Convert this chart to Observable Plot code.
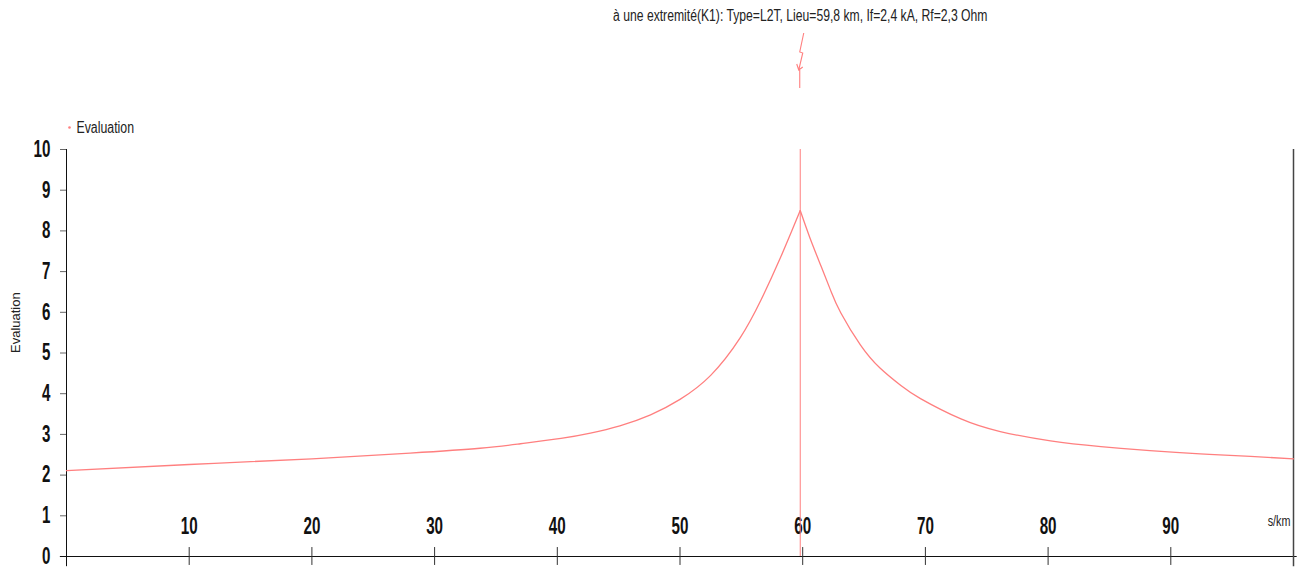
<!DOCTYPE html>
<html><head><meta charset="utf-8">
<script src="https://cdn.jsdelivr.net/npm/d3@7"></script>
<script src="https://cdn.jsdelivr.net/npm/@observablehq/plot@0.6"></script>
<style>body{margin:0;background:#fff} svg{display:block}</style>
</head><body><div id="chart"></div>
<script>
const title = "à une extremité(K1): Type=L2T, Lieu=59,8 km, If=2,4 kA, Rf=2,3 Ohm";
const seriesName = "Evaluation";
const xUnit = "s/km";
const faultKm = 59.8;
const xTicks = [10, 20, 30, 40, 50, 60, 70, 80, 90];
const yTicks = [0, 1, 2, 3, 4, 5, 6, 7, 8, 9, 10];
const kmLeft = [0, 10, 20, 28, 33.7, 37, 40.3, 42.7, 45.1, 47.6, 50, 52.5, 54.9, 56.6, 58.2, 59.8];
const evalLeft = [2.11, 2.26, 2.40, 2.54, 2.66, 2.77, 2.90, 3.03, 3.21, 3.48, 3.86, 4.45, 5.37, 6.30, 7.35, 8.50];
const kmRight = [59.8, 60.6, 61.5, 62.3, 63.1, 64.7, 66.3, 68, 69.6, 72.9, 76.1, 80.2, 84.3, 88.3, 92.4, 96.5, 100];
const evalRight = [8.50, 7.82, 7.13, 6.52, 5.99, 5.20, 4.63, 4.20, 3.88, 3.38, 3.07, 2.84, 2.70, 2.60, 2.52, 2.46, 2.40];

const data = [
  ...kmLeft.map((k, i) => ({km: k, v: evalLeft[i], side: "left"})),
  ...kmRight.map((k, i) => ({km: k, v: evalRight[i], side: "right"}))
];
const red = "#ff7f7f";
const font = "'Liberation Sans', Arial, sans-serif";

function lightning(index, scales, values, dimensions) {
  const x0 = scales.x(faultKm);
  const g = d3.create("svg:g").attr("fill", "none").attr("stroke", red).attr("stroke-width", 1.1);
  g.append("path").attr("d", `M${x0 + 4},33 L${x0},52 L${x0 + 3},53 L${x0 - 1},70 M${x0 - 3},64 L${x0 - 1},70 L${x0 + 3},67 M${x0},70 L${x0},88`);
  return g.node();
}

const chart = Plot.plot({
  width: 1297,
  height: 567,
  marginLeft: 66,
  marginRight: 4,
  marginTop: 149,
  marginBottom: 11,
  style: {fontFamily: font, background: "#fff", overflow: "visible"},
  x: {domain: [0, 100]},
  y: {domain: [0, 10]},
  marks: [
    Plot.axisY({ticks: yTicks, tickSize: 6, tickPadding: 10, fontSize: 23, fontWeight: "bold", stroke: "#666", fill: "#111", label: null, tickFormat: d => d}),
    Plot.axisX({ticks: [], label: null}),
    Plot.ruleY([0], {x1: -0.5, x2: 100.3, stroke: "#111"}),
    Plot.ruleX([0], {y1: -0.25, y2: 10, stroke: "#111"}),
    Plot.ruleX([100], {y1: -0.25, y2: 10, stroke: "#444", strokeWidth: 1.5}),
    Plot.ruleX(xTicks, {x: d => d, y1: -0.22, y2: 0.22, stroke: "#333"}),
    Plot.text(xTicks, {x: d => d, y: 0, dy: -30, text: d => d, fontSize: 23, fontWeight: "bold", fill: "#111"}),
    Plot.text([xUnit], {frameAnchor: "bottom-right", lineAnchor: "middle", dx: -3, dy: -35, fontSize: 14, fill: "#222"}),
    Plot.text([seriesName], {frameAnchor: "left", rotate: -90, dx: -51, fontSize: 13, fill: "#222", style: "letter-spacing:1.6px"}),
    Plot.ruleX([faultKm], {y1: 0, y2: 10, stroke: red, strokeWidth: 1}),
    Plot.line(data, {x: "km", y: "v", z: "side", curve: "natural", stroke: red, strokeWidth: 1.3}),
    Plot.text([title], {x: faultKm, frameAnchor: "top", lineAnchor: "middle", dy: -134, fontSize: 15.8, fill: "#222"}),
    Plot.dot([seriesName], {frameAnchor: "top-left", dx: 3, dy: -22, r: 1.3, fill: red, stroke: null}),
    Plot.text([seriesName], {frameAnchor: "top-left", lineAnchor: "middle", dx: 10, dy: -22, textAnchor: "start", fontSize: 16, fill: "#222"}),
    lightning
  ]
});
document.getElementById("chart").append(chart);

// Narrow the glyphs to imitate the condensed typeface of the original
chart.querySelectorAll("text").forEach(t => {
  const tr = t.getAttribute("transform") || "";
  if (tr.includes("rotate")) return;
  const s = t.textContent.trim();
  const factor = /^\d+$/.test(s) ? 0.66 : 0.77;
  const len = t.getComputedTextLength();
  if (len > 0) {
    t.setAttribute("textLength", (len * factor).toFixed(1));
    t.setAttribute("lengthAdjust", "spacingAndGlyphs");
  }
});
</script>
</body></html>
